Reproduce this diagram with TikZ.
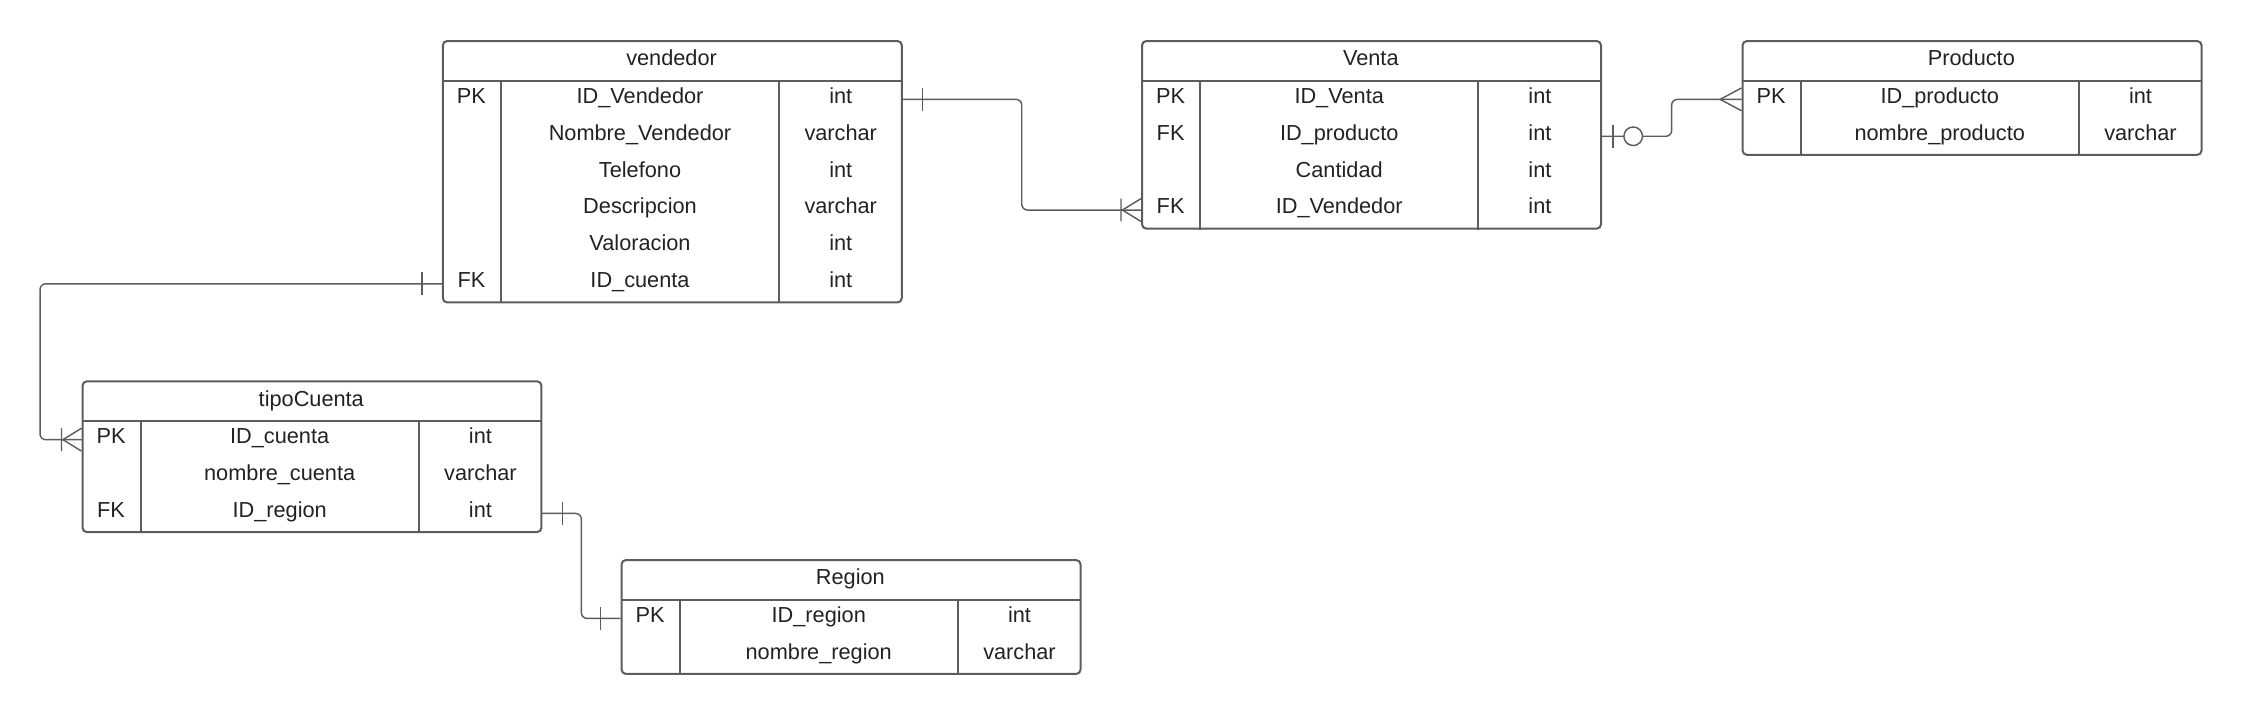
\documentclass[tikz,border=0pt]{standalone}
\usepackage{fontspec}
\setmainfont{Liberation Sans}
\usetikzlibrary{calc}
\definecolor{linegray}{HTML}{5C5C5C}
\definecolor{textgray}{HTML}{222222}

\begin{document}
\begin{tikzpicture}[x=1pt,y=1pt,
    one/.pic={\draw[ertip] (14,-8) -- (14,8);},
    many/.pic={\draw[ertip] (0,8) -- (15,0) -- (0,-8);},
    onemany/.pic={\draw[ertip] (0,8) -- (13,0) -- (0,-8) (14,-8) -- (14,8);},
    zeroone/.pic={\draw[ertip] (8,-8) -- (8,8); \draw[ertip,fill=white] (22,0) circle (6.5);}]
    \tikzstyle{ertable}=[draw=linegray,line width=1.4pt,rounded corners=3pt,minimum width=321pt,inner sep=0pt,anchor=north west]
    \tikzstyle{erhead}=[minimum width=321pt,minimum height=28pt,inner sep=0pt,anchor=north west,text height=11pt,text depth=3.5pt,text=textgray,font=\fontsize{15.2}{18}\selectfont]
    \tikzstyle{ercell}=[minimum height=25.8pt,inner sep=0pt,text height=11pt,text depth=5.5pt,text=textgray,font=\fontsize{15.2}{18}\selectfont]
    \tikzstyle{erkey}=[ercell,minimum width=41pt,anchor=north west]
    \tikzstyle{erfield}=[ercell,minimum width=194pt,anchor=west]
    \tikzstyle{ertype}=[ercell,minimum width=86pt,anchor=west]
    \tikzstyle{errule}=[draw=linegray,line width=1.4pt]
    \tikzstyle{erlink}=[draw=linegray,line width=1pt,rounded corners=4pt]
    \tikzstyle{ertip}=[draw=linegray,line width=1pt]
    \useasboundingbox (0,0) rectangle (1568,-499.4);

    \node[ertable,minimum height={28pt+6*25.8pt}] (vendedor) at (309,-28) {};
    \node[erhead] (vendedor-h) at (vendedor.north west) {vendedor};
    \foreach \k/\f/\t [count=\i] in {PK/ID\_Vendedor/int,{}/Nombre\_Vendedor/varchar,{}/Telefono/int,{}/Descripcion/varchar,{}/Valoracion/int,FK/ID\_cuenta/int}{
      \node[erkey] (vendedor-k\i) at ($(vendedor-h.south west)+(0,{-25.8*(\i-1)})$) {\k};
      \node[erfield] (vendedor-f\i) at (vendedor-k\i.east) {\f};
      \node[ertype] (vendedor-t\i) at (vendedor-f\i.east) {\t};
    }
    \draw[errule] (vendedor-h.south west) -- (vendedor-h.south east);
    \draw[errule] (vendedor-k1.north east) -- (vendedor-k1.north east |- vendedor.south);
    \draw[errule] (vendedor-f1.north east) -- (vendedor-f1.north east |- vendedor.south);

    \node[ertable,minimum height={28pt+4*25.8pt}] (venta) at (798,-28) {};
    \node[erhead] (venta-h) at (venta.north west) {Venta};
    \foreach \k/\f/\t [count=\i] in {PK/ID\_Venta/int,FK/ID\_producto/int,{}/Cantidad/int,FK/ID\_Vendedor/int}{
      \node[erkey] (venta-k\i) at ($(venta-h.south west)+(0,{-25.8*(\i-1)})$) {\k};
      \node[erfield] (venta-f\i) at (venta-k\i.east) {\f};
      \node[ertype] (venta-t\i) at (venta-f\i.east) {\t};
    }
    \draw[errule] (venta-h.south west) -- (venta-h.south east);
    \draw[errule] (venta-k1.north east) -- (venta-k1.north east |- venta.south);
    \draw[errule] (venta-f1.north east) -- (venta-f1.north east |- venta.south);

    \node[ertable,minimum height={28pt+2*25.8pt}] (producto) at (1218,-28) {};
    \node[erhead] (producto-h) at (producto.north west) {Producto};
    \foreach \k/\f/\t [count=\i] in {PK/ID\_producto/int,{}/nombre\_producto/varchar}{
      \node[erkey] (producto-k\i) at ($(producto-h.south west)+(0,{-25.8*(\i-1)})$) {\k};
      \node[erfield] (producto-f\i) at (producto-k\i.east) {\f};
      \node[ertype] (producto-t\i) at (producto-f\i.east) {\t};
    }
    \draw[errule] (producto-h.south west) -- (producto-h.south east);
    \draw[errule] (producto-k1.north east) -- (producto-k1.north east |- producto.south);
    \draw[errule] (producto-f1.north east) -- (producto-f1.north east |- producto.south);

    \node[ertable,minimum height={28pt+3*25.8pt}] (tipo) at (57,-266) {};
    \node[erhead] (tipo-h) at (tipo.north west) {tipoCuenta};
    \foreach \k/\f/\t [count=\i] in {PK/ID\_cuenta/int,{}/nombre\_cuenta/varchar,FK/ID\_region/int}{
      \node[erkey] (tipo-k\i) at ($(tipo-h.south west)+(0,{-25.8*(\i-1)})$) {\k};
      \node[erfield] (tipo-f\i) at (tipo-k\i.east) {\f};
      \node[ertype] (tipo-t\i) at (tipo-f\i.east) {\t};
    }
    \draw[errule] (tipo-h.south west) -- (tipo-h.south east);
    \draw[errule] (tipo-k1.north east) -- (tipo-k1.north east |- tipo.south);
    \draw[errule] (tipo-f1.north east) -- (tipo-f1.north east |- tipo.south);

    \node[ertable,minimum height={28pt+2*25.8pt}] (region) at (434,-391) {};
    \node[erhead] (region-h) at (region.north west) {Region};
    \foreach \k/\f/\t [count=\i] in {PK/ID\_region/int,{}/nombre\_region/varchar}{
      \node[erkey] (region-k\i) at ($(region-h.south west)+(0,{-25.8*(\i-1)})$) {\k};
      \node[erfield] (region-f\i) at (region-k\i.east) {\f};
      \node[ertype] (region-t\i) at (region-f\i.east) {\t};
    }
    \draw[errule] (region-h.south west) -- (region-h.south east);
    \draw[errule] (region-k1.north east) -- (region-k1.north east |- region.south);
    \draw[errule] (region-f1.north east) -- (region-f1.north east |- region.south);

    \coordinate (m1) at ($(vendedor-t1.east)!.5!(venta-k4.west)$);
    \coordinate (m2) at ($(venta-t2.east)!.5!(producto-k1.west)$);
    \coordinate (m3) at ($(tipo-k1.west)+(-29,0)$);
    \coordinate (m4) at ($(tipo-t3.east)!.5!(region-k1.west)$);
    \draw[erlink] (vendedor-t1.east) -- (vendedor-t1.east -| m1) |- (venta-k4.west);
    \draw[erlink] (venta-t2.east) -- (venta-t2.east -| m2) |- (producto-k1.west);
    \draw[erlink] (vendedor-k6.west) -- (vendedor-k6.west -| m3) |- (tipo-k1.west);
    \draw[erlink] (tipo-t3.east) -- (tipo-t3.east -| m4) |- (region-k1.west);

    \pic at (vendedor-t1.east) {one};
    \pic[rotate=180] at (venta-k4.west) {onemany};
    \pic at (venta-t2.east) {zeroone};
    \pic[rotate=180] at (producto-k1.west) {many};
    \pic[rotate=180] at (vendedor-k6.west) {one};
    \pic[rotate=180] at (tipo-k1.west) {onemany};
    \pic at (tipo-t3.east) {one};
    \pic[rotate=180] at (region-k1.west) {one};
\end{tikzpicture}
\end{document}
